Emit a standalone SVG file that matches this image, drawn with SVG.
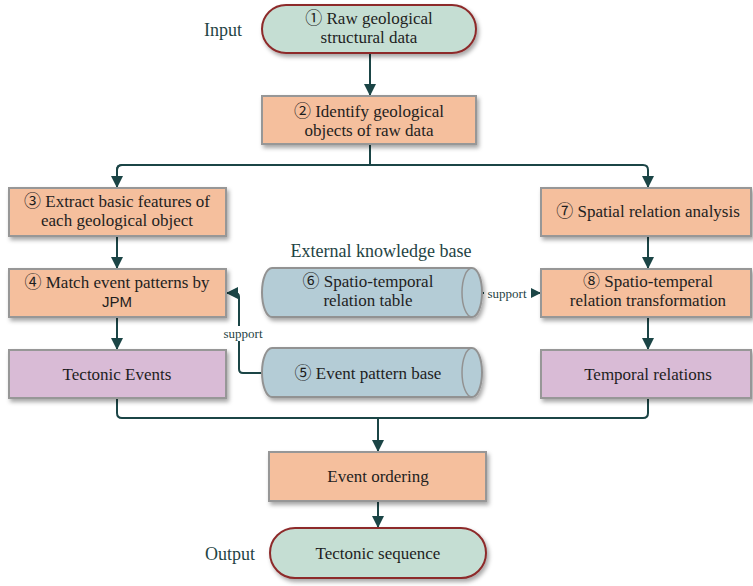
<svg xmlns="http://www.w3.org/2000/svg" width="753" height="586" viewBox="0 0 753 586" font-family="Liberation Serif, DejaVu Serif, serif">
  <defs>
    <filter id="shadow" x="-10%" y="-20%" width="130%" height="160%">
      <feDropShadow dx="2" dy="3" stdDeviation="2" flood-color="#000" flood-opacity="0.35"/>
    </filter>
    <marker id="arrow" viewBox="0 0 12 12" refX="11" refY="6" markerWidth="12" markerHeight="12" markerUnits="userSpaceOnUse" orient="auto">
      <path d="M0,0 L12,6 L0,12 Z" fill="#1b4546"/>
    </marker>
  </defs>
  <style>
    .proc { fill: #f5bf9d; stroke: #979797; stroke-width: 2; filter: url(#shadow); }
    .result { fill: #d9bbd6; stroke: #979797; stroke-width: 2; filter: url(#shadow); }
    .term { fill: #c5ded3; stroke: #8d2a2a; stroke-width: 2; filter: url(#shadow); }
    .cyl { fill: #b4ccd6; stroke: #929292; stroke-width: 2; filter: url(#shadow); }
    .cyl-end { fill: none; stroke: #929292; stroke-width: 1.5; }
    .lbl { font-size: 17px; fill: #1e1e1e; text-anchor: middle; }
    .side { font-size: 18px; fill: #1f4444; text-anchor: middle; }
    .sup { font-size: 13px; fill: #1f4444; text-anchor: middle; }
    .num { font-family: "Noto Sans CJK SC", sans-serif; }
    .conn { fill: none; stroke: #1b4546; stroke-width: 2; }
  </style>

  <!-- side captions -->
  <text class="side" x="223" y="36">Input</text>
  <text class="side" x="230" y="560">Output</text>
  <text class="side" x="381" y="257">External knowledge base</text>

  <!-- connectors -->
  <g id="connectors">
    <path class="conn" d="M370,54 V95" marker-end="url(#arrow)"/>
    <path class="conn" d="M370,145 V165"/>
    <path class="conn" d="M117,187 V170 Q117,165 122,165 H643 Q648,165 648,170 V187" marker-end="url(#arrow)"/>
    <path class="conn" d="M122,165 Q117,165 117,170 V187" marker-end="url(#arrow)"/>
    <path class="conn" d="M117,237 V268" marker-end="url(#arrow)"/>
    <path class="conn" d="M117,318 V349" marker-end="url(#arrow)"/>
    <path class="conn" d="M648,237 V268" marker-end="url(#arrow)"/>
    <path class="conn" d="M648,318 V349" marker-end="url(#arrow)"/>
    <path class="conn" d="M117,399 V413 Q117,418 122,418 H643 Q648,418 648,413 V399"/>
    <path class="conn" d="M378,418 V451" marker-end="url(#arrow)"/>
    <path class="conn" d="M378,502 V527" marker-end="url(#arrow)"/>
    <!-- support links -->
    <path class="conn" d="M262,373 H243 Q239,373 239,369 V297 Q239,293 235,293 H227" marker-end="url(#arrow)"/>
    <path class="conn" d="M483,293 H540" marker-end="url(#arrow)"/>
    <rect x="218" y="326" width="48" height="15" fill="#fff"/>
    <text class="sup" x="243" y="338">support</text>
    <rect x="484" y="286" width="47" height="15" fill="#fff"/>
    <text class="sup" x="507" y="298">support</text>
  </g>

  <g id="n1">
    <rect class="term" x="262" y="5" width="214" height="48" rx="24" ry="24"/>
    <text class="lbl" x="369" y="24"><tspan class="num">①</tspan> Raw geological</text>
    <text class="lbl" x="369" y="43">structural data</text>
  </g>

  <g id="n2">
    <rect class="proc" x="262" y="96" width="214" height="48"/>
    <text class="lbl" x="369" y="117"><tspan class="num">②</tspan> Identify geological</text>
    <text class="lbl" x="369" y="136">objects of raw data</text>
  </g>

  <g id="n3">
    <rect class="proc" x="9" y="188" width="217" height="48"/>
    <text class="lbl" x="117" y="207"><tspan class="num">③</tspan> Extract basic features of</text>
    <text class="lbl" x="117" y="226">each geological object</text>
  </g>

  <g id="n4">
    <rect class="proc" x="9" y="269" width="217" height="48"/>
    <text class="lbl" x="117" y="288"><tspan class="num">④</tspan> Match event patterns by</text>
    <text class="lbl" x="117" y="307" font-family="Liberation Sans, sans-serif" style="font-size:15px">JPM</text>
  </g>

  <g id="tectonic-events">
    <rect class="result" x="9" y="350" width="217" height="48"/>
    <text class="lbl" x="117" y="380">Tectonic Events</text>
  </g>

  <g id="n6">
    <path class="cyl" d="M272,268 H472 A10,24.5 0 0 1 472,317 H272 A10,24.5 0 0 1 272,268 Z"/>
    <path class="cyl-end" d="M472,268 A10,24.5 0 0 0 472,317"/>
    <text class="lbl" x="368" y="287"><tspan class="num">⑥</tspan> Spatio-temporal</text>
    <text class="lbl" x="368" y="306">relation table</text>
  </g>

  <g id="n5">
    <path class="cyl" d="M272,348 H472 A10,24.5 0 0 1 472,397 H272 A10,24.5 0 0 1 272,348 Z"/>
    <path class="cyl-end" d="M472,348 A10,24.5 0 0 0 472,397"/>
    <text class="lbl" x="368" y="379"><tspan class="num">⑤</tspan>  Event pattern base</text>
  </g>

  <g id="n7">
    <rect class="proc" x="541" y="188" width="210" height="48"/>
    <text class="lbl" x="648" y="217"><tspan class="num">⑦</tspan> Spatial relation analysis</text>
  </g>

  <g id="n8">
    <rect class="proc" x="541" y="269" width="210" height="48"/>
    <text class="lbl" x="648" y="287"><tspan class="num">⑧</tspan> Spatio-temperal</text>
    <text class="lbl" x="648" y="306">relation transformation</text>
  </g>

  <g id="temporal-relations">
    <rect class="result" x="541" y="350" width="210" height="48"/>
    <text class="lbl" x="648" y="380">Temporal relations</text>
  </g>

  <g id="event-ordering">
    <rect class="proc" x="269" y="452" width="217" height="49"/>
    <text class="lbl" x="378" y="482">Event ordering</text>
  </g>

  <g id="tectonic-sequence">
    <rect class="term" x="270" y="528" width="216" height="50" rx="25" ry="25"/>
    <text class="lbl" x="378" y="559">Tectonic sequence</text>
  </g>
</svg>
